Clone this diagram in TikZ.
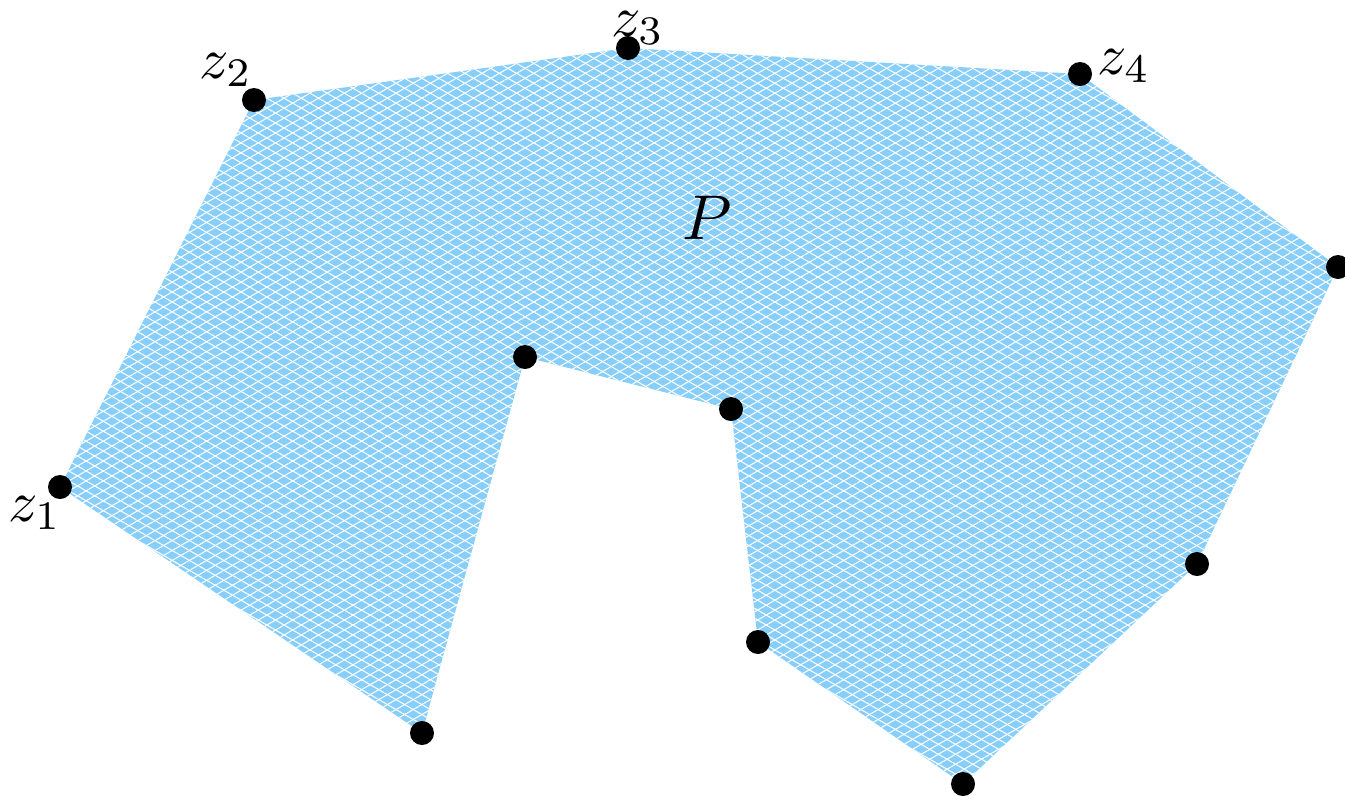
\documentclass[tikz,border=0pt]{standalone}
\usetikzlibrary{patterns.meta}
\definecolor{polyblue}{RGB}{135,206,250}
\begin{document}
\begin{tikzpicture}[x=0.02cm,y=-0.02cm,
  vdot/.style={circle,fill=black,inner sep=0pt,minimum size=0.48cm},
  lbl/.style={scale=3.3,inner sep=0pt},
  hatchA/.style={pattern={Lines[angle=30,distance=4.9pt,line width=0.6pt]},pattern color=white},
  hatchB/.style={pattern={Lines[angle=-30,distance=4.9pt,line width=0.6pt]},pattern color=white}]
\useasboundingbox (0,0) rectangle (1345,799);
\coordinate (p1) at (60,487);
\coordinate (p2) at (254,100);
\coordinate (p3) at (628,48);
\coordinate (p4) at (1080,74);
\coordinate (p5) at (1338,267);
\coordinate (p6) at (1197,564);
\coordinate (p7) at (963,784);
\coordinate (p8) at (758,642);
\coordinate (p9) at (731,409);
\coordinate (p10) at (525,357);
\coordinate (p11) at (422,733);
\fill[polyblue] (p1)--(p2)--(p3)--(p4)--(p5)--(p6)--(p7)--(p8)--(p9)--(p10)--(p11)--cycle;
\fill[hatchA] (p1)--(p2)--(p3)--(p4)--(p5)--(p6)--(p7)--(p8)--(p9)--(p10)--(p11)--cycle;
\fill[hatchB] (p1)--(p2)--(p3)--(p4)--(p5)--(p6)--(p7)--(p8)--(p9)--(p10)--(p11)--cycle;
\foreach \i in {1,...,11} {\node[vdot] (d\i) at (p\i) {};}
\node[lbl] (l1) at (35,513) {$z_1$};
\node[lbl] (l2) at (226,70) {$z_2$};
\node[lbl] (l3) at (638,28) {$z_3$};
\node[lbl] (l4) at (1124,66) {$z_4$};
\node[scale=3.6,inner sep=0pt] (P) at (707,218) {$P$};
\end{tikzpicture}
\end{document}
